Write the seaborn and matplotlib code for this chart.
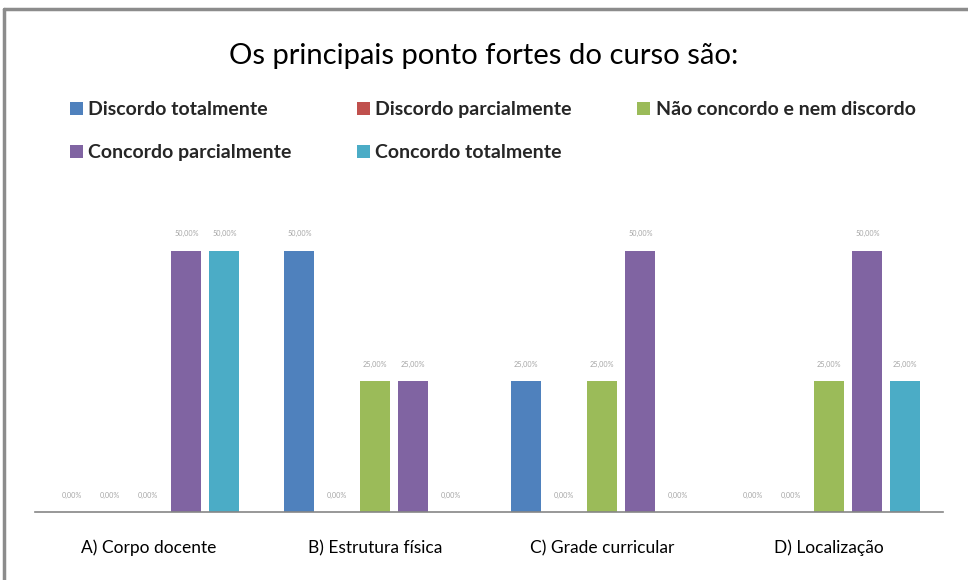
import matplotlib
matplotlib.use("Agg")
import matplotlib.pyplot as plt
import seaborn as sns
import pandas as pd
from matplotlib.lines import Line2D

categories = ["A) Corpo docente", "B) Estrutura física", "C) Grade curricular", "D) Localização"]
series = ["Discordo totalmente", "Discordo parcialmente", "Não concordo e nem discordo",
          "Concordo parcialmente", "Concordo totalmente"]
discordo_totalmente = [0.00, 50.00, 25.00, 0.00]
discordo_parcialmente = [0.00, 0.00, 0.00, 0.00]
nao_concordo = [0.00, 25.00, 25.00, 25.00]
concordo_parcialmente = [50.00, 25.00, 50.00, 50.00]
concordo_totalmente = [50.00, 0.00, 0.00, 25.00]
colors = ["#4F81BD", "#C0504D", "#9BBB59", "#8064A2", "#4BACC6"]

values = [discordo_totalmente, discordo_parcialmente, nao_concordo,
          concordo_parcialmente, concordo_totalmente]
rows = []
for s, vals in zip(series, values):
    for c, v in zip(categories, vals):
        rows.append({"cat": c, "serie": s, "val": v})
df = pd.DataFrame(rows)

sns.set_theme(style="white")
plt.rcParams["font.family"] = ["Lato", "DejaVu Sans"]

fig = plt.figure(figsize=(9.68, 5.8), dpi=100)
ax = fig.add_axes([0.036, 0.117, 0.938, 0.541])

sns.barplot(data=df, x="cat", y="val", hue="serie", order=categories, hue_order=series,
            palette=colors, saturation=1, width=0.837, gap=0.21, ax=ax, legend=True,
            edgecolor="none", linewidth=0, errorbar=None)

for cont in ax.containers:
    labels = [f"{v:.2f}".replace(".", ",") + "%" for v in cont.datavalues]
    ax.bar_label(cont, labels=labels, padding=9.5, fontsize=5.2, color="#A6A6A6")

ax.set_ylim(0, 60)
ax.set_xlim(-0.5, 3.5)
ax.set_xlabel("")
ax.set_ylabel("")
ax.set_yticks([])
for sp in ["top", "left", "right"]:
    ax.spines[sp].set_visible(False)
ax.spines["bottom"].set_color("#868686")
ax.spines["bottom"].set_linewidth(1.2)
ax.tick_params(axis="x", length=0, pad=20, labelsize=12.5, labelcolor="#000000")

handles, labels = ax.get_legend_handles_labels()
ax.get_legend().remove()
order = [0, 3, 1, 4, 2]
leg = fig.legend([handles[i] for i in order], [labels[i] for i in order],
                 ncol=3, loc="upper left", bbox_to_anchor=(0.0723, 0.8257),
                 frameon=False, borderpad=0, borderaxespad=0,
                 handlelength=0.65, handleheight=0.65, handletextpad=0.3,
                 columnspacing=3.35, labelspacing=1.35,
                 prop={"family": ["Lato", "DejaVu Sans"], "weight": "bold", "size": 14})

fig.text(0.5, 0.903, "Os principais ponto fortes do curso são:", ha="center", va="center",
         fontsize=21.1, color="#000000")

# chart frame (top and left edges visible)
fig.add_artist(Line2D([0.004, 1.0], [0.984, 0.984], color="#8C8C8C", lw=2.5,
                      transform=fig.transFigure))
fig.add_artist(Line2D([0.004, 0.004], [0.0, 0.984], color="#8C8C8C", lw=2.5,
                      transform=fig.transFigure))

fig.savefig("out.png", dpi=100, facecolor="white")
